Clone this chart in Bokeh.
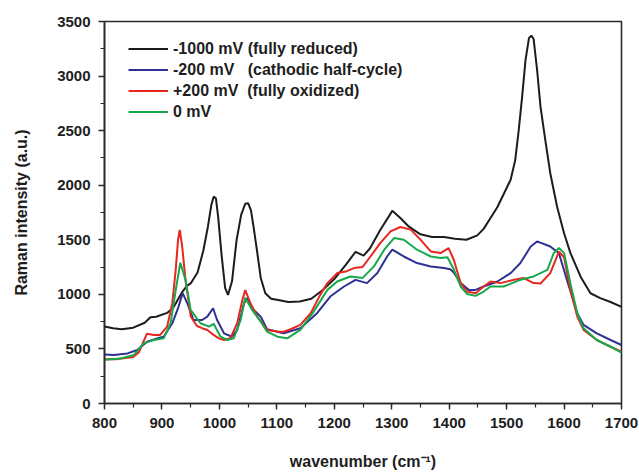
from bokeh.plotting import figure
from bokeh.models import Range1d, SingleIntervalTicker, Legend, LegendItem
from bokeh.embed import file_html
from bokeh.resources import INLINE

# ---- data ----
x_black = [800, 815, 830, 850, 870, 880, 890, 909, 920, 935, 944, 950, 962, 972, 980, 986, 990, 994, 998,
           1004, 1010, 1015, 1022, 1030, 1038, 1045, 1050, 1055, 1060, 1066, 1072, 1080, 1090, 1100,
           1120, 1140, 1160, 1180, 1200, 1220, 1237, 1251, 1262, 1280, 1301, 1315, 1330, 1350, 1370,
           1391, 1410, 1430, 1449, 1460, 1472, 1484, 1495, 1507, 1515, 1521, 1527, 1533, 1539, 1543,
           1547, 1553, 1559, 1568, 1576, 1588, 1600, 1611, 1629, 1646, 1663, 1681, 1700]
y_black = [705, 690, 680, 695, 740, 790, 795, 830, 880, 1020, 1080, 1100, 1200, 1400, 1620, 1820, 1895, 1880, 1700,
           1350, 1060, 995, 1120, 1500, 1730, 1830, 1835, 1770, 1600, 1380, 1150, 1010, 960, 950,
           930, 935, 960, 1040, 1140, 1270, 1390, 1355, 1420, 1590, 1765, 1700, 1620, 1550, 1525,
           1525, 1510, 1500, 1540, 1600, 1700, 1800, 1920, 2050, 2230, 2500, 2810, 3150, 3350, 3370,
           3340, 3060, 2720, 2390, 2110, 1800, 1560, 1380, 1160, 1010, 965, 930, 885]

x_blue = [800, 816, 840, 857, 874, 892, 903, 918, 929, 936, 944, 955, 970, 979, 989, 996, 1008, 1022,
          1031, 1043, 1048, 1060, 1072, 1083, 1112, 1141, 1170, 1193, 1217, 1237, 1257, 1275, 1292,
          1301, 1321, 1344, 1368, 1391, 1402, 1408, 1420, 1434, 1446, 1460, 1484, 1507, 1524, 1542,
          1553, 1576, 1591, 1605, 1623, 1634, 1657, 1681, 1700]
y_blue = [450, 444, 459, 490, 566, 597, 612, 735, 888, 1011, 919, 765, 765, 796, 873, 765, 643, 612,
          674, 919, 965, 857, 796, 680, 643, 689, 827, 980, 1072, 1133, 1103, 1195, 1347,
          1409, 1347, 1287, 1256, 1241, 1230, 1200, 1103, 1041, 1041, 1072, 1118, 1195, 1287, 1439,
          1485, 1439, 1378, 1133, 827, 720, 643, 582, 536]

x_red = [800, 820, 850, 860, 868, 874, 886, 897, 909, 918, 924, 928, 931, 935, 941, 950, 961, 970, 979,
         990, 999, 1008, 1019, 1031, 1040, 1045, 1054, 1066, 1083, 1100, 1112, 1124, 1141, 1159, 1176,
         1188, 1205, 1220, 1234, 1249, 1263, 1280, 1298, 1315, 1333, 1350, 1368, 1385, 1399, 1408,
         1420, 1431, 1446, 1460, 1472, 1489, 1513, 1530, 1547, 1559, 1576, 1591, 1600, 1611, 1623,
         1634, 1657, 1681, 1700]
y_red = [405, 405, 425, 470, 570, 640, 628, 628, 704, 919, 1225, 1500, 1590, 1450, 1133, 800, 710, 690, 674,
         628, 597, 582, 597, 735, 949, 1040, 919, 796, 674, 660, 658, 680, 720, 827, 1000,
         1103, 1195, 1209, 1241, 1250, 1347, 1470, 1577, 1617, 1593, 1501, 1393, 1378, 1424, 1317,
         1103, 1026, 1011, 1072, 1118, 1103, 1133, 1149, 1103, 1100, 1195, 1390, 1340, 1041, 796,
         674, 582, 520, 474]

x_green = [800, 828, 851, 868, 886, 903, 915, 925, 932, 941, 950, 967, 982, 990, 1002, 1014, 1025, 1037,
           1045, 1057, 1072, 1083, 1101, 1118, 1141, 1164, 1188, 1205, 1228, 1249, 1269, 1287, 1304,
           1321, 1344, 1368, 1385, 1397, 1408, 1420, 1431, 1446, 1460, 1472, 1495, 1524, 1547, 1571,
           1582, 1591, 1600, 1611, 1623, 1634, 1657, 1681, 1700]
y_green = [400, 413, 444, 551, 582, 597, 735, 1072, 1290, 1133, 857, 735, 704, 730, 612, 582, 597, 765,
           970, 857, 750, 658, 612, 597, 674, 840, 1041, 1118, 1164, 1149, 1256, 1409, 1516,
           1501, 1409, 1347, 1333, 1340, 1230, 1072, 1004, 986, 1026, 1072, 1072, 1133, 1164, 1225,
           1378, 1424, 1378, 1103, 827, 689, 582, 520, 465]

series_labels = ["-1000 mV (fully reduced)",
                 "-200 mV \u00a0 (cathodic half-cycle)",
                 "+200 mV\u00a0 (fully oxidized)",
                 "0 mV"]
series_colors = ["#1c1c1c", "#2e3192", "#e8261f", "#17a84b"]

x_label = "wavenumber (cm\u207b\u00b9)"
y_label = "Raman intensity (a.u.)"

FONT = "Liberation Sans"
TXT = "#1e1e1e"

p = figure(width=639, height=474, output_backend="svg", toolbar_location=None,
           x_range=Range1d(800, 1700), y_range=Range1d(0, 3500),
           min_border_left=104, min_border_right=18, min_border_top=21, min_border_bottom=71)
p.grid.visible = False
p.outline_line_color = "#2a2a2a"
p.outline_line_width = 1.6
p.background_fill_color = "white"
p.border_fill_color = "white"

p.xaxis.ticker = SingleIntervalTicker(interval=100, num_minor_ticks=2)
p.yaxis.ticker = SingleIntervalTicker(interval=500, num_minor_ticks=2)

for ax in (p.xaxis[0], p.yaxis[0]):
    ax.axis_line_color = "#2a2a2a"
    ax.axis_line_width = 1.6
    ax.major_tick_line_color = "#2a2a2a"
    ax.minor_tick_line_color = "#2a2a2a"
    ax.major_tick_line_width = 1.4
    ax.minor_tick_line_width = 1.2
    ax.major_tick_out = 6
    ax.major_tick_in = 0
    ax.minor_tick_out = 4
    ax.minor_tick_in = 0
    ax.major_label_text_font = FONT
    ax.major_label_text_font_style = "bold"
    ax.major_label_text_font_size = "15px"
    ax.major_label_text_color = TXT
    ax.axis_label_text_font = FONT
    ax.axis_label_text_font_style = "bold"
    ax.axis_label_text_font_size = "16px"
    ax.axis_label_text_color = TXT

p.xaxis.axis_label = x_label
p.yaxis.axis_label = y_label
p.xaxis.major_label_standoff = 8
p.yaxis.major_label_standoff = 8
p.xaxis.axis_label_standoff = 22
p.yaxis.axis_label_standoff = 24

xs = [x_black, x_blue, x_red, x_green]
ys = [y_black, y_blue, y_red, y_green]
items = []
for xv, yv, c, lab in zip(xs, ys, series_colors, series_labels):
    r = p.line(xv, yv, line_color=c, line_width=2)
    items.append(LegendItem(label=lab, renderers=[r]))

legend = Legend(items=items, location=(24, 281), padding=0, spacing=0, margin=0,
                label_height=21, glyph_height=21, glyph_width=40, label_standoff=5,
                label_text_font=FONT, label_text_font_style="bold", label_text_font_size="16px",
                label_text_color=TXT, background_fill_alpha=0, border_line_alpha=0)
p.add_layout(legend)

open("out.html", "w").write(file_html(p, INLINE))
